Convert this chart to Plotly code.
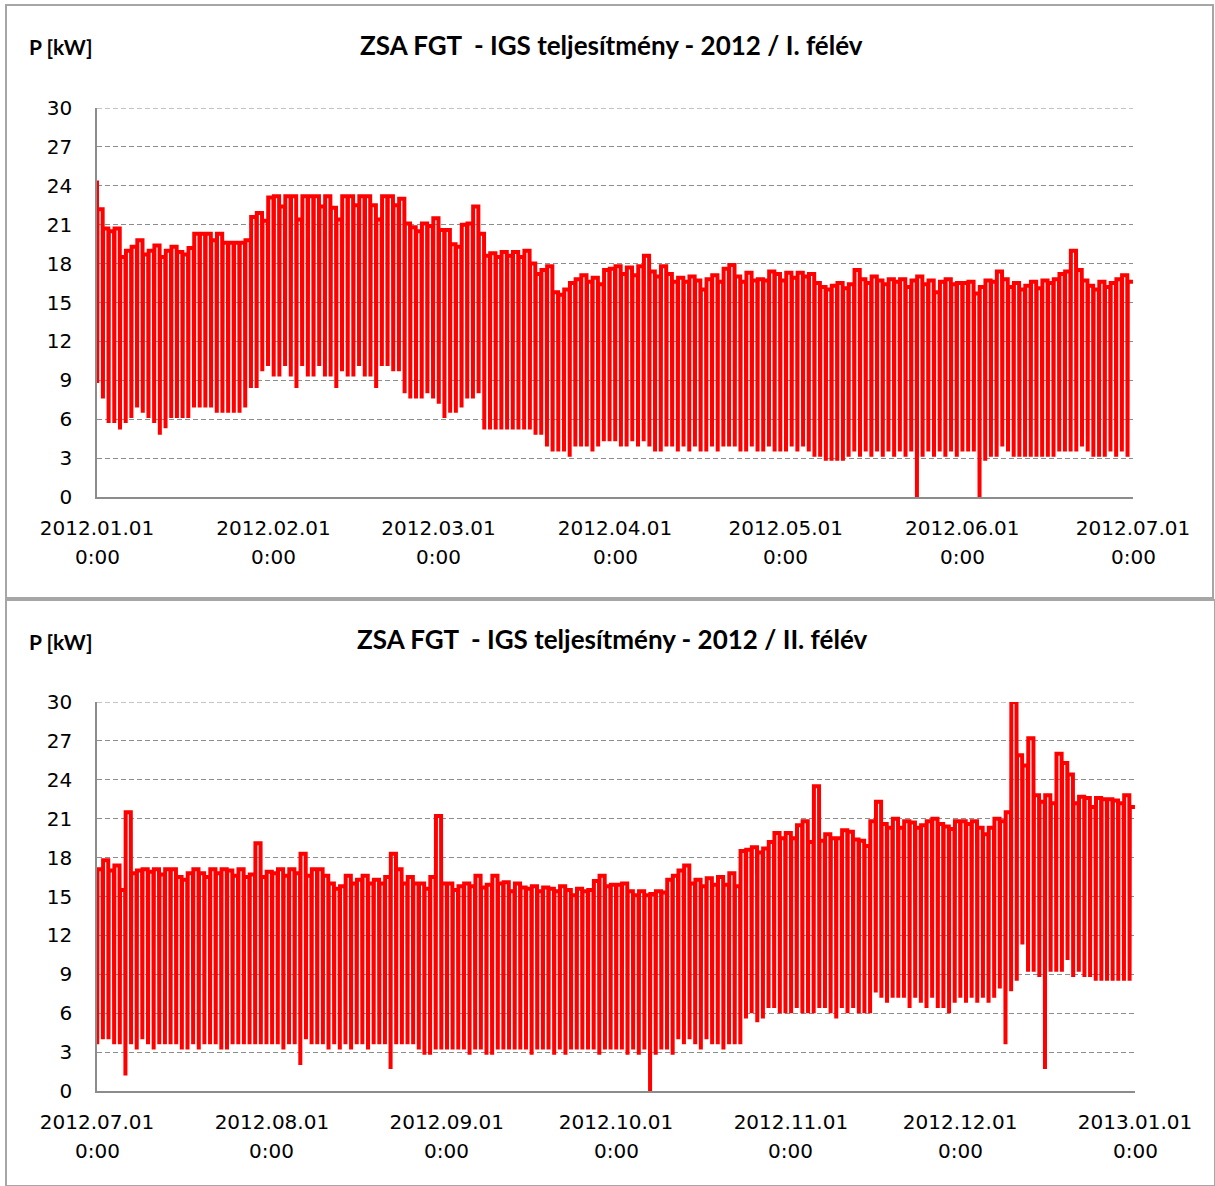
import datetime as dt
import plotly.graph_objects as go

# ---------------- data: daily day-time (high) and night-time (low) power, kW ----------------
h1_title = "ZSA FGT  - IGS teljesítmény - 2012 / I. félév"
h2_title = "ZSA FGT  - IGS teljesítmény - 2012 / II. félév"
y_label = "P [kW]"

h1_start_value = 24.4

jan_hi = [22.2, 20.7, 20.5, 20.7, 18.5, 19.0, 19.3, 19.8, 18.7, 19.0, 19.4, 18.5, 19.0, 19.3, 18.9, 18.7,
          19.2, 20.3, 20.3, 20.3, 19.8, 20.3, 19.6, 19.6, 19.6, 19.6, 19.8, 21.6, 21.9, 21.3, 23.1]
jan_lo = [8.8, 7.6, 5.7, 5.7, 5.2, 5.7, 6.1, 6.9, 6.5, 6.1, 5.7, 4.8, 5.3, 6.1, 6.1, 6.1,
          6.1, 6.9, 6.9, 6.9, 6.9, 6.5, 6.5, 6.5, 6.5, 6.5, 6.9, 8.4, 8.4, 9.7, 10.1]
feb_hi = [23.2, 22.4, 23.2, 23.2, 21.4, 23.2, 23.2, 23.2, 22.4, 23.2, 22.3, 21.4, 23.2, 23.2, 22.5,
          23.2, 23.2, 22.5, 21.4, 23.2, 23.2, 22.5, 23.0, 21.1, 20.8, 20.5, 21.1, 20.9, 21.5]
feb_lo = [9.3, 9.3, 10.1, 9.3, 8.4, 10.1, 9.3, 9.3, 10.1, 9.3, 9.3, 8.4, 9.7, 9.3, 9.3,
          10.1, 9.3, 9.3, 8.4, 10.1, 10.1, 9.7, 9.7, 8.0, 7.6, 7.6, 7.6, 8.0, 7.6]
mar_hi = [20.6, 20.6, 19.5, 19.3, 21.0, 21.1, 22.4, 20.3, 18.6, 18.8, 18.5, 18.9, 18.6, 18.9, 18.5, 19.0,
          18.0, 17.2, 17.5, 17.8, 15.8, 15.6, 16.0, 16.5, 16.8, 17.1, 16.6, 16.9, 16.4, 17.5, 17.6]
mar_lo = [7.2, 6.1, 6.5, 6.5, 6.9, 7.6, 7.6, 8.0, 5.2, 5.2, 5.2, 5.2, 5.2, 5.2, 5.2, 5.2,
          5.2, 4.8, 4.8, 3.9, 3.5, 3.5, 3.5, 3.1, 3.9, 3.9, 3.9, 3.5, 3.9, 4.3, 4.3]
apr_hi = [17.8, 17.2, 17.7, 17.1, 17.8, 18.6, 17.4, 17.0, 17.8, 17.2, 16.6, 16.9, 16.6, 17.0, 16.7,
          16.0, 16.8, 17.1, 16.6, 17.6, 17.9, 17.0, 16.6, 17.3, 16.7, 16.8, 16.7, 17.4, 17.2, 16.7]
apr_lo = [4.3, 3.9, 3.9, 4.3, 3.9, 4.3, 3.9, 3.5, 3.5, 3.9, 3.9, 3.5, 3.9, 3.5, 3.9,
          3.5, 3.5, 3.9, 3.5, 3.9, 3.9, 3.9, 3.5, 3.5, 3.9, 3.5, 3.5, 3.9, 3.5, 3.5]
may_hi = [17.3, 16.9, 17.3, 17.0, 17.2, 16.5, 16.2, 16.0, 16.3, 16.5, 16.1, 16.4, 17.5, 16.8, 16.5, 17.0,
          16.7, 16.4, 16.8, 16.6, 16.8, 16.2, 16.7, 17.0, 16.4, 16.7, 15.8, 16.6, 16.8, 16.4, 16.5]
may_lo = [3.5, 3.9, 3.5, 3.9, 3.5, 3.1, 3.1, 2.8, 2.8, 2.8, 2.8, 3.1, 3.5, 3.1, 3.5, 3.1,
          3.5, 3.1, 3.5, 3.1, 3.5, 3.1, 3.5, 0.0, 3.1, 3.5, 3.1, 3.5, 3.1, 3.5, 3.1]
jun_hi = [16.5, 16.6, 15.7, 16.2, 16.7, 16.6, 17.4, 16.8, 16.2, 16.5, 16.0, 16.3, 16.6, 16.1, 16.7,
          16.5, 16.8, 17.2, 17.4, 19.0, 17.5, 16.7, 16.3, 16.0, 16.6, 16.2, 16.5, 16.8, 17.1, 16.6]
jun_lo = [3.5, 3.5, 3.5, 0.0, 2.8, 3.1, 3.1, 3.9, 3.5, 3.1, 3.1, 3.1, 3.1, 3.1, 3.1,
          3.1, 3.1, 3.5, 3.5, 3.5, 3.5, 3.9, 3.5, 3.1, 3.1, 3.1, 3.5, 3.1, 3.5, 3.1]

jul_hi = [17.1, 17.8, 17.0, 17.4, 15.5, 21.5, 16.8, 17.0, 17.1, 16.9, 17.1, 16.7, 17.1, 17.1, 16.5, 16.3,
          16.8, 17.1, 16.8, 16.5, 17.1, 16.8, 17.1, 17.0, 16.6, 17.1, 16.5, 16.7, 19.1, 16.5, 16.9]
jul_lo = [3.6, 4.0, 4.0, 3.6, 3.6, 1.2, 3.6, 3.2, 4.0, 3.6, 3.2, 3.6, 3.6, 3.6, 3.6, 3.2,
          3.2, 3.6, 3.2, 3.6, 3.6, 3.6, 3.2, 3.2, 3.6, 3.6, 3.6, 3.6, 3.6, 3.6, 3.6]
aug_hi = [16.8, 17.1, 16.6, 17.1, 16.8, 18.3, 16.6, 17.1, 17.1, 16.6, 16.0, 15.6, 15.8, 16.6, 16.0, 16.3,
          16.6, 16.0, 16.3, 16.0, 16.5, 18.3, 17.1, 16.0, 16.5, 16.0, 16.0, 15.6, 16.5, 21.2, 16.0]
aug_lo = [3.6, 3.6, 3.2, 3.6, 3.6, 2.0, 4.0, 3.6, 3.6, 3.6, 3.2, 3.6, 3.2, 3.6, 3.2, 3.6,
          3.6, 3.2, 3.6, 3.6, 3.6, 1.7, 3.6, 3.6, 3.6, 3.6, 3.2, 2.8, 2.8, 3.2, 3.2]
sep_hi = [16.0, 15.5, 15.8, 16.0, 15.8, 16.6, 15.7, 15.9, 16.6, 16.0, 16.1, 15.4, 16.0, 15.7, 15.6,
          15.8, 15.4, 15.7, 15.6, 15.4, 15.8, 15.5, 15.1, 15.6, 15.4, 15.5, 16.2, 16.6, 15.8, 15.9]
sep_lo = [3.2, 3.2, 3.2, 3.2, 2.8, 3.2, 3.2, 2.8, 2.8, 3.2, 3.2, 3.2, 3.2, 3.2, 3.2,
          2.8, 3.2, 3.2, 3.2, 2.8, 3.2, 2.8, 3.2, 3.2, 3.2, 3.2, 3.2, 2.8, 3.2, 3.2]
oct_hi = [15.9, 16.0, 15.4, 15.1, 15.4, 15.1, 15.2, 15.4, 15.3, 16.3, 16.6, 17.0, 17.4, 16.0, 16.3, 15.8,
          16.4, 15.9, 16.5, 15.9, 16.8, 15.8, 18.5, 18.6, 18.8, 18.4, 18.7, 19.2, 19.9, 19.5, 19.9]
oct_lo = [3.2, 3.2, 2.8, 3.2, 2.8, 3.2, 0.0, 2.8, 3.2, 3.2, 2.8, 4.0, 3.6, 4.0, 3.6, 3.2,
          4.0, 3.6, 3.6, 3.2, 3.6, 3.6, 3.6, 5.6, 6.0, 5.3, 5.6, 6.4, 6.4, 6.0, 6.0]
nov_hi = [19.5, 20.5, 20.8, 19.2, 23.5, 19.3, 19.8, 19.5, 19.5, 20.1, 20.0, 19.4, 19.3, 18.9, 20.8,
          22.3, 20.6, 20.3, 21.0, 20.3, 20.8, 20.7, 20.3, 20.5, 20.8, 21.0, 20.6, 20.4, 20.2, 20.8]
nov_lo = [6.0, 6.4, 6.0, 6.0, 6.0, 6.4, 6.4, 6.0, 5.6, 6.4, 6.0, 6.4, 6.0, 6.0, 6.0,
          7.6, 7.2, 6.8, 7.2, 7.2, 7.2, 6.4, 7.2, 6.8, 6.4, 7.2, 6.4, 6.4, 6.0, 6.8]
dec_hi = [20.8, 20.6, 20.8, 20.3, 19.8, 20.3, 21.0, 20.8, 21.5, 30.0, 25.9, 25.1, 27.2, 22.8, 22.3, 22.8,
          22.2, 26.0, 25.3, 24.4, 22.2, 22.7, 22.6, 21.9, 22.6, 22.5, 22.5, 22.4, 22.2, 22.8, 21.9]
dec_lo = [7.2, 6.8, 7.2, 6.8, 7.2, 6.8, 7.2, 7.9, 3.6, 7.7, 8.5, 11.3, 9.2, 9.2, 8.8, 1.7,
          9.2, 9.2, 9.2, 10.1, 8.8, 9.2, 8.8, 8.8, 8.5, 8.5, 8.5, 8.5, 8.5, 8.5, 8.5]

h1_ticks = ["2012.01.01", "2012.02.01", "2012.03.01", "2012.04.01", "2012.05.01", "2012.06.01", "2012.07.01"]
h2_ticks = ["2012.07.01", "2012.08.01", "2012.09.01", "2012.10.01", "2012.11.01", "2012.12.01", "2013.01.01"]
tick_time = "0:00"
y_ticks = list(range(0, 31, 3))

h1_hi = jan_hi + feb_hi + mar_hi + apr_hi + may_hi + jun_hi
h1_lo = jan_lo + feb_lo + mar_lo + apr_lo + may_lo + jun_lo
h2_hi = jul_hi + aug_hi + sep_hi + oct_hi + nov_hi + dec_hi
h2_lo = jul_lo + aug_lo + sep_lo + oct_lo + nov_lo + dec_lo


def to_date(s):
    return dt.datetime.strptime(s, "%Y.%m.%d")


def build(start, highs, lows, first=None):
    xs, ys = [], []
    if first is not None:
        xs.append(start)
        ys.append(first)
    for i, (h, l) in enumerate(zip(highs, lows)):
        d = start + dt.timedelta(days=i)
        xs += [d + dt.timedelta(hours=1), d + dt.timedelta(hours=2),
               d + dt.timedelta(hours=23, minutes=50)]
        ys += [l, h, h]
    return xs, ys


x1, y1 = build(to_date(h1_ticks[0]), h1_hi, h1_lo, h1_start_value)
x2, y2 = build(to_date(h2_ticks[0]), h2_hi, h2_lo)

W, H = 1215, 1186
RED = "#ff0000"
GRID = "#8c8c8c"
AXIS = "#8c8c8c"
TICK_FONT = dict(family="DejaVu Sans", size=20, color="#000000")


def px(x):
    return x / W


def py(y):
    return 1 - y / H


fig = go.Figure()
fig.add_trace(go.Scatter(x=x1, y=y1, mode="lines", line=dict(color=RED, width=4),
                         xaxis="x", yaxis="y", hoverinfo="skip"))
fig.add_trace(go.Scatter(x=x2, y=y2, mode="lines", line=dict(color=RED, width=4),
                         xaxis="x2", yaxis="y2", hoverinfo="skip"))

panels = [
    dict(xa="xaxis", ya="yaxis", yid="y", xid="x", ticks=h1_ticks, xl=97, xr=1133, yt=108, yb=497,
         title=h1_title, ty=45, tx=612, ly=47),
    dict(xa="xaxis2", ya="yaxis2", yid="y2", xid="x2", ticks=h2_ticks, xl=97, xr=1135, yt=702, yb=1091,
         title=h2_title, ty=639, tx=612, ly=641),
]

annotations = []
shapes = []
layout_axes = {}
for p in panels:
    tickvals = [to_date(t) for t in p["ticks"]]
    layout_axes[p["xa"]] = dict(
        domain=[px(p["xl"]), px(p["xr"])], anchor=p["yid"],
        range=[tickvals[0], tickvals[-1]], type="date",
        tickmode="array", tickvals=tickvals, ticktext=p["ticks"],
        showgrid=False, zeroline=False, showline=True, linecolor=AXIS, linewidth=1.5,
        ticks="", tickfont=TICK_FONT, ticklabelstandoff=12, automargin=False,
    )
    layout_axes[p["ya"]] = dict(
        domain=[py(p["yb"]), py(p["yt"])], anchor=p["xid"],
        range=[0, 30], tickmode="array", tickvals=y_ticks,
        showgrid=True, gridcolor=GRID, gridwidth=1, griddash="5px,3px",
        zeroline=False, showline=True, linecolor=AXIS, linewidth=1.5,
        ticks="", tickfont=TICK_FONT, ticklabelstandoff=19, automargin=False,
    )
    # top gridline (at the range edge, not drawn by the axis itself)
    shapes.append(dict(type="line", xref=p["xid"] + " domain", yref=p["yid"], x0=0, x1=1,
                       y0=y_ticks[-1], y1=y_ticks[-1],
                       line=dict(color=GRID, width=1, dash="5px,3px"), layer="below"))
    # second line of the x tick labels
    for tv in tickvals:
        annotations.append(dict(
            x=tv, xref=p["xid"], y=py(p["yb"] + 60), yref="paper",
            text=tick_time, showarrow=False, font=TICK_FONT,
            xanchor="center", yanchor="middle"))
    annotations.append(dict(
        x=px(p["tx"]), y=py(p["ty"]), xref="paper", yref="paper",
        text="<b>" + p["title"] + "</b>", showarrow=False,
        font=dict(family="Lato", size=26, color="#000000"),
        xanchor="center", yanchor="middle"))
    annotations.append(dict(
        x=px(27), y=py(p["ly"]), xref="paper", yref="paper",
        text="<b>" + y_label + "</b>", showarrow=False,
        font=dict(family="Lato", size=21, color="#000000"),
        xanchor="left", yanchor="middle"))

# chart-area borders
shapes.append(dict(type="rect", xref="paper", yref="paper", x0=px(6), x1=px(1213), y0=py(598), y1=py(5),
                   line=dict(color="#a6a6a6", width=2), fillcolor="rgba(0,0,0,0)", layer="below"))
shapes.append(dict(type="rect", xref="paper", yref="paper", x0=px(6), x1=1.0, y0=0.0, y1=py(600),
                   line=dict(color="#a6a6a6", width=2), fillcolor="rgba(0,0,0,0)", layer="below"))

fig.update_layout(
    width=W, height=H, margin=dict(l=0, r=0, t=0, b=0, pad=0, autoexpand=False),
    paper_bgcolor="white", plot_bgcolor="white",
    showlegend=False, hovermode=False,
    annotations=annotations, shapes=shapes,
    **layout_axes,
)

fig.write_html("out.html", config={"displayModeBar": False},
               post_script="document.body.style.margin='0';document.body.style.overflow='hidden';")
